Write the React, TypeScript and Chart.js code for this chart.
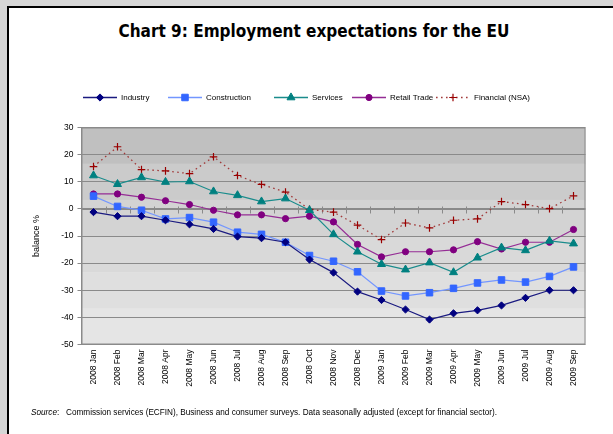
import React, { useEffect, useRef } from "react";
import { Chart, registerables } from "chart.js";
import { drawPoint } from "chart.js/helpers";

Chart.register(...registerables);

const months: string[] = [
  "2008 Jan", "2008 Feb", "2008 Mar", "2008 Apr", "2008 May", "2008 Jun", "2008 Jul",
  "2008 Aug", "2008 Sep", "2008 Oct", "2008 Nov", "2008 Dec", "2009 Jan", "2009 Feb",
  "2009 Mar", "2009 Apr", "2009 May", "2009 Jun", "2009 Jul", "2009 Aug", "2009 Sep",
];

const industry: number[] = [
  -1.2, -2.7, -2.7, -4.2, -5.7, -7.4, -10.2, -10.8, -12.3, -18.7, -23.5,
  -30.5, -33.6, -37.1, -40.8, -38.5, -37.4, -35.6, -32.8, -30.0, -30.0,
];
const construction: number[] = [
  4.7, 0.9, -0.5, -3.7, -3.2, -4.9, -8.6, -9.4, -12.3, -17.2, -19.3,
  -23.2, -30.3, -32.1, -30.9, -29.3, -27.3, -26.2, -27.0, -24.9, -21.4,
];
const services: number[] = [
  12.3, 9.1, 11.6, 9.9, 10.1, 6.4, 5.0, 2.7, 3.8, -0.5, -9.4,
  -15.8, -20.4, -22.4, -19.8, -23.4, -18.0, -14.3, -15.3, -11.8, -12.8,
];
const retail: number[] = [
  5.5, 5.5, 4.3, 3.0, 1.6, -0.5, -2.2, -2.2, -3.6, -2.7, -4.8,
  -13.1, -17.7, -15.8, -15.8, -15.1, -12.1, -14.8, -12.3, -12.3, -7.6,
];
const financial: number[] = [
  15.6, 22.9, 14.5, 14.0, 13.0, 19.2, 12.3, 9.0, 6.2, -0.2, -1.2,
  -6.0, -11.3, -5.2, -7.0, -4.2, -3.7, 2.7, 1.6, 0.1, 4.8,
];

const seriesNames: string[] = ["Industry", "Construction", "Services", "Retail Trade", "Financial (NSA)"];
const yTicks: number[] = [30, 20, 10, 0, -10, -20, -30, -40, -50];

const FONT = '"Liberation Sans", Arial, sans-serif';

const styles = [
  { line: "#1a1a80", point: "#000080", shape: "rectRot", r: 3.6, dash: [] as number[] },
  { line: "#7396ff", point: "#3366ff", shape: "rect", r: 4.6, dash: [] as number[] },
  { line: "#1a8c8c", point: "#008080", shape: "triangle", r: 4.6, dash: [] as number[] },
  { line: "#952d95", point: "#800080", shape: "circle", r: 3.1, dash: [] as number[] },
  { line: "#a23b3b", point: "#990000", shape: "cross", r: 3.8, dash: [1.6, 3.4] },
];

const bandColors = ["#c0c0c0", "#cbcbcb", "#d3d3d3", "#d9d9d9", "#dfdfdf", "#e5e5e5"];

const bgPlugin = {
  id: "bgBands",
  beforeDraw(chart: any) {
    const { ctx, chartArea } = chart;
    const { left, top, right, bottom } = chartArea;
    const h = (bottom - top) / bandColors.length;
    ctx.save();
    bandColors.forEach((c, i) => {
      ctx.fillStyle = c;
      ctx.fillRect(left, top + i * h, right - left, h + 0.5);
    });
    ctx.restore();
  },
  beforeDatasetsDraw(chart: any) {
    const { ctx, chartArea, scales } = chart;
    const { left, top, right, bottom } = chartArea;
    ctx.save();
    ctx.strokeStyle = "#8a8a8a";
    ctx.lineWidth = 1;
    ctx.strokeRect(left + 0.5, top + 0.5, right - left - 1, bottom - top - 1);
    const y0 = Math.round(scales.y.getPixelForValue(0)) + 0.5;
    const step = (right - left) / months.length;
    ctx.beginPath();
    ctx.moveTo(left, y0);
    ctx.lineTo(right, y0);
    for (let k = 1; k < months.length; k++) {
      const x = Math.round(left + k * step) + 0.5;
      ctx.moveTo(x, y0 - 3);
      ctx.lineTo(x, y0 + 4);
    }
    ctx.stroke();
    ctx.restore();
  },
  afterDraw(chart: any) {
    const { ctx } = chart;
    ctx.save();
    ctx.fillStyle = "#000";
    ctx.font = `9px ${FONT}`;
    ctx.textAlign = "center";
    ctx.textBaseline = "middle";
    ctx.translate(37, 236);
    ctx.rotate(-Math.PI / 2);
    ctx.fillText("balance %", 0, 0);
    ctx.restore();

    const starts = [83, 168, 274, 352, 436];
    const y = 97.5;
    const lineLen = 34;
    ctx.save();
    ctx.font = `8px ${FONT}`;
    ctx.textBaseline = "middle";
    ctx.textAlign = "left";
    chart.data.datasets.forEach((ds: any, i: number) => {
      const s = styles[i];
      const x0 = starts[i];
      ctx.strokeStyle = s.line;
      ctx.lineWidth = 1.3;
      ctx.setLineDash(s.dash);
      ctx.beginPath();
      ctx.moveTo(x0, y);
      ctx.lineTo(x0 + lineLen, y);
      ctx.stroke();
      ctx.setLineDash([]);
      ctx.fillStyle = s.point;
      ctx.strokeStyle = s.point;
      ctx.lineWidth = s.shape === "cross" ? 1.2 : 1;
      drawPoint(ctx, { pointStyle: s.shape as any, radius: s.r, rotation: 0, borderWidth: 1 }, x0 + lineLen / 2, y);
      ctx.fillStyle = "#000";
      ctx.fillText(ds.label, x0 + lineLen + 4, y + 0.5);
    });
    ctx.restore();
  },
};

export default function App() {
  const ref = useRef<HTMLCanvasElement | null>(null);

  useEffect(() => {
    document.body.style.margin = "0";
    if (!ref.current) return;
    const data = [industry, construction, services, retail, financial];
    const chart = new Chart(ref.current, {
      type: "line",
      data: {
        labels: months,
        datasets: data.map((d, i) => ({
          label: seriesNames[i],
          data: d,
          borderColor: styles[i].line,
          borderWidth: i === 4 ? 1.3 : 1.2,
          borderDash: styles[i].dash,
          pointStyle: styles[i].shape as any,
          pointRadius: styles[i].r,
          pointBackgroundColor: styles[i].point,
          pointBorderColor: styles[i].point,
          pointBorderWidth: i === 4 ? 1.2 : 1,
          tension: 0,
          fill: false,
        })),
      },
      options: {
        animation: false,
        responsive: false,
        maintainAspectRatio: false,
        layout: { padding: { left: 0, right: 27.5, top: 127.5, bottom: 0 } },
        plugins: {
          legend: { display: false },
          title: { display: false },
          tooltip: { enabled: false },
        },
        scales: {
          x: {
            offset: true,
            grid: { display: false, drawTicks: false },
            border: { display: false },
            ticks: {
              autoSkip: false,
              maxRotation: 90,
              minRotation: 90,
              padding: 5,
              color: "#000",
              font: { family: FONT, size: 8.5 },
            },
            afterFit: (scale: any) => {
              scale.height = 89.5;
            },
          },
          y: {
            min: -50,
            max: 30,
            afterBuildTicks: (scale: any) => {
              scale.ticks = yTicks.map((v) => ({ value: v }));
            },
            grid: {
              color: "#8a8a8a",
              lineWidth: 1,
              drawTicks: true,
              tickLength: 4,
              tickColor: "#8a8a8a",
            },
            border: { display: true, color: "#8a8a8a" },
            ticks: {
              padding: 4,
              color: "#000",
              font: { family: FONT, size: 8.5 },
            },
            afterFit: (scale: any) => {
              scale.width = 81.5;
            },
          },
        },
      },
      plugins: [bgPlugin],
    });
    return () => chart.destroy();
  }, []);

  return (
    <div style={{ position: "relative", width: 613, height: 434, background: "#d6d6d6", overflow: "hidden" }}>
      <div
        style={{
          position: "absolute",
          left: 7,
          top: 6,
          width: 606,
          height: 428,
          borderLeft: "2px solid #000",
          borderTop: "2px solid #000",
          background: "#fff",
        }}
      />
      <div
        style={{
          position: "absolute",
          left: 0,
          width: 628,
          top: 21,
          textAlign: "center",
          fontFamily: '"DejaVu Sans Condensed", "DejaVu Sans", sans-serif',
          fontStretch: "condensed",
          fontWeight: "bold",
          fontSize: 17,
          whiteSpace: "nowrap",
          color: "#000",
        }}
      >
        Chart 9: Employment expectations for the EU
      </div>
      <canvas ref={ref} width={613} height={434} style={{ position: "absolute", left: 0, top: 0 }} />
      <div
        style={{
          position: "absolute",
          left: 31,
          top: 408,
          fontFamily: FONT,
          fontSize: 8.2,
          whiteSpace: "nowrap",
          color: "#000",
        }}
      >
        <i>Source</i>:&nbsp;&nbsp;&nbsp;Commission services (ECFIN), Business and consumer surveys. Data seasonally adjusted (except for financial sector).
      </div>
    </div>
  );
}
